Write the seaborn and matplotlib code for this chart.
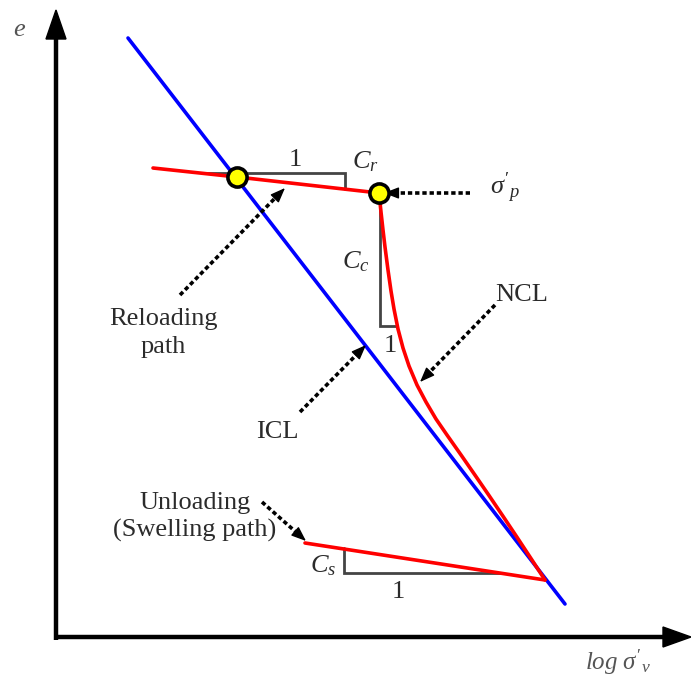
import matplotlib
matplotlib.use("Agg")
import matplotlib.pyplot as plt
import seaborn as sns

# Schematic e - log(sigma'_v) diagram, in drawing units (x right, y down)
icl_x = [128, 565]
icl_y = [38, 604]

reload_x = [153, 237, 379]
reload_y = [168, 177, 193]

ncl_x = [379, 381, 383, 385, 388, 391, 394, 398, 403, 409, 417, 426, 436,
         447, 461, 475, 489, 503, 517, 531, 545]
ncl_y = [193, 212, 230, 247, 270, 291, 309, 329, 348, 366, 385, 402, 419,
         435, 454.9, 475.1, 495.5, 516.2, 537.2, 558.5, 580]

swell_x = [545, 305]
swell_y = [580, 543]

yield_x = [237, 379]
yield_y = [177, 193]

# slope triangles (polylines)
cr_tri_x = [205, 345, 345]
cr_tri_y = [173, 173, 189]
cc_tri_x = [380, 380, 397]
cc_tri_y = [193, 326, 326]
cs_tri_x = [344, 344, 500]
cs_tri_y = [548, 573, 573]

sns.set_style("white")
plt.rcParams["font.family"] = ["Liberation Serif", "DejaVu Serif"]
plt.rcParams["mathtext.fontset"] = "custom"
plt.rcParams["mathtext.rm"] = "Liberation Serif"
plt.rcParams["mathtext.it"] = "Liberation Serif:italic"

fig = plt.figure(figsize=(6.91, 6.77), dpi=100)
ax = fig.add_axes([0, 0, 1, 1])
ax.set_xlim(0, 691)
ax.set_ylim(677, 0)
ax.axis("off")

txt = "#2b2b2b"
tri_c = "#444444"

# axes with arrowheads
ax.plot([56, 56], [640, 30], color="black", lw=3.2, solid_capstyle="butt")
ax.plot([54, 668], [637, 637], color="black", lw=3.2, solid_capstyle="butt")
ax.fill([46, 66, 56], [39, 39, 10], color="black")
ax.fill([663, 663, 691], [627, 647, 637], color="black")

# slope triangles
for tx, ty in [(cr_tri_x, cr_tri_y), (cc_tri_x, cc_tri_y), (cs_tri_x, cs_tri_y)]:
    ax.plot(tx, ty, color=tri_c, lw=2.0, solid_joinstyle="miter")

# curves
sns.lineplot(x=icl_x, y=icl_y, color="#0000ff", lw=2.6, ax=ax, sort=False)
sns.lineplot(x=reload_x, y=reload_y, color="#ff0000", lw=2.6, ax=ax, sort=False)
sns.lineplot(x=ncl_x, y=ncl_y, color="#ff0000", lw=2.6, ax=ax, sort=False)
sns.lineplot(x=swell_x, y=swell_y, color="#ff0000", lw=2.6, ax=ax, sort=False)
sns.scatterplot(x=yield_x, y=yield_y, s=190, color="#ffff00", edgecolor="black",
                linewidth=2.6, ax=ax, zorder=5)


def pointer(x0, y0, x1, y1):
    dx, dy = x1 - x0, y1 - y0
    L = (dx ** 2 + dy ** 2) ** 0.5
    ux, uy = dx / L, dy / L
    ax.plot([x0, x1 - 10 * ux], [y0, y1 - 10 * uy], color="black", lw=2.6,
            linestyle=(0, (1.2, 0.8)))
    ax.annotate("", xy=(x1, y1), xytext=(x1 - 14 * ux, y1 - 14 * uy),
                arrowprops=dict(arrowstyle="-|>,head_length=0.9,head_width=0.35",
                                color="black", lw=1, shrinkA=0, shrinkB=0))


pointer(180, 295, 285, 188)
pointer(470, 193, 384, 193)
pointer(495, 305, 420, 382)
pointer(300, 412, 366, 345)
pointer(262, 502, 306, 541)

fs = 19
ax.text(20, 30, "$e$", fontsize=fs, color="#555555", ha="center", va="center")
ax.text(618, 662, r"$log\ \sigma'_v$", fontsize=fs - 1, color="#555555",
        ha="center", va="center")
ax.text(295, 160, "1", fontsize=fs, color=txt, ha="center", va="center")
ax.text(365, 162, "$C_r$", fontsize=fs, color=txt, ha="center", va="center")
ax.text(356, 262, "$C_c$", fontsize=fs, color=txt, ha="center", va="center")
ax.text(390, 346, "1", fontsize=fs, color=txt, ha="center", va="center")
ax.text(323, 566, "$C_s$", fontsize=fs, color=txt, ha="center", va="center")
ax.text(398, 592, "1", fontsize=fs, color=txt, ha="center", va="center")
ax.text(505, 188, r"$\sigma'_p$", fontsize=fs, color=txt, ha="center", va="center")
ax.text(163, 333, "Reloading\npath", fontsize=fs, color=txt, ha="center",
        va="center", linespacing=1.4)
ax.text(522, 295, "NCL", fontsize=fs, color=txt, ha="center", va="center")
ax.text(277, 432, "ICL", fontsize=fs, color=txt, ha="center", va="center")
ax.text(195, 517, "Unloading\n(Swelling path)", fontsize=fs, color=txt,
        ha="center", va="center", linespacing=1.3)

fig.savefig("out.png", dpi=100)
